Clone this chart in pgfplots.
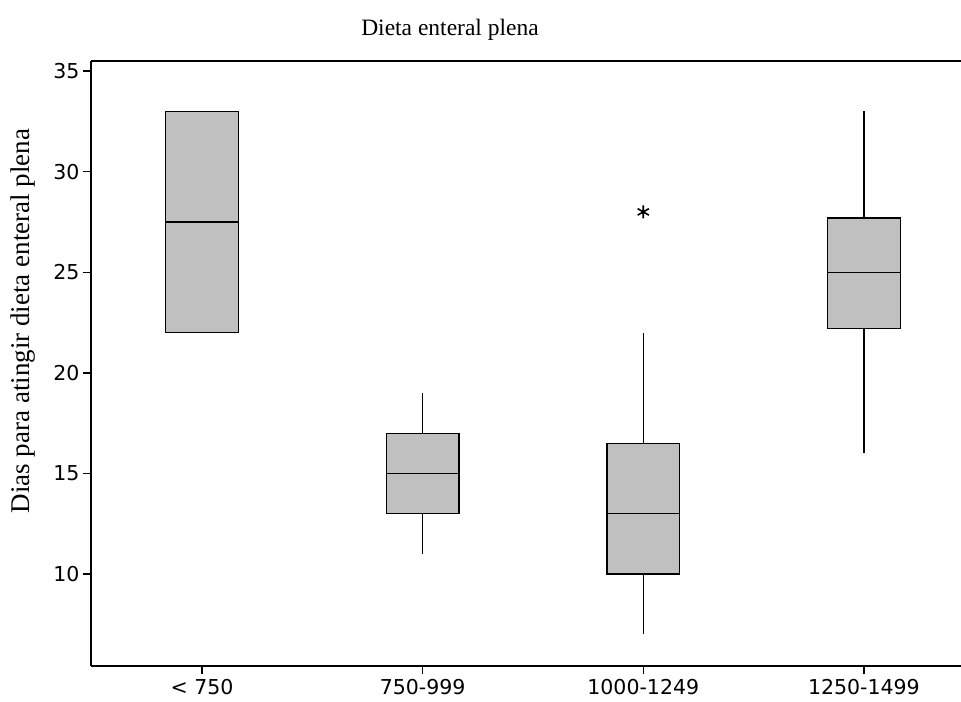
\documentclass[border=0pt]{standalone}
\usepackage{pgfplots}
\pgfplotsset{compat=1.18}
\usepackage{fontspec}
\setmainfont{Liberation Serif}
\newfontfamily\tickfont{DejaVu Sans}
\definecolor{boxgray}{RGB}{192,192,192}
\begin{document}
\begin{tikzpicture}
\begin{axis}[
  at={(91bp,36bp)}, anchor=south west,
  scale only axis, width=870bp, height=605bp,
  xmin=-0.503, xmax=3.44, ymin=5.43, ymax=35.5,
  axis x line*=box, axis y line*=left,
  xtick pos=left, ytick pos=left,
  xtick={0,1,2,3},
  xticklabels={{< 750},{750-999},{1000-1249},{1250-1499}},
  ytick={10,15,20,25,30,35},
  tick align=outside, major tick length=8bp,
  axis line style={line width=1.5bp, black},
  tick style={line width=1.3bp, black},
  tick label style={font=\tickfont\fontsize{20.5bp}{24bp}\selectfont, black},
  /pgf/number format/assume math mode=true,
  xticklabel style={yshift=-2bp},
  ln/.style={draw=black, line width=1.4bp, solid, mark=none},
]
% whiskers (category, low/high)
\addplot[ln] coordinates {(1,11) (1,13)};
\addplot[ln] coordinates {(1,17) (1,19)};
\addplot[ln] coordinates {(2,7) (2,10)};
\addplot[ln] coordinates {(2,16.5) (2,22)};
\addplot[ln] coordinates {(3,16) (3,22.2)};
\addplot[ln] coordinates {(3,27.7) (3,33)};
% boxes (lower quartile, upper quartile)
\addplot[ln, fill=boxgray] coordinates {(-0.165,22) (0.165,22) (0.165,33) (-0.165,33)} -- cycle;
\addplot[ln, fill=boxgray] coordinates {(0.835,13) (1.165,13) (1.165,17) (0.835,17)} -- cycle;
\addplot[ln, fill=boxgray] coordinates {(1.835,10) (2.165,10) (2.165,16.5) (1.835,16.5)} -- cycle;
\addplot[ln, fill=boxgray] coordinates {(2.835,22.2) (3.165,22.2) (3.165,27.7) (2.835,27.7)} -- cycle;
% medians
\addplot[ln] coordinates {(-0.165,27.5) (0.165,27.5)};
\addplot[ln] coordinates {(0.835,15) (1.165,15)};
\addplot[ln] coordinates {(1.835,13) (2.165,13)};
\addplot[ln] coordinates {(2.835,25) (3.165,25)};
% outlier
\addplot[only marks, mark=asterisk, mark size=6.5bp, mark options={draw=black, line width=1.6bp}] coordinates {(2,28)};
\end{axis}
\node[font=\fontsize{23.5bp}{28bp}\selectfont] at (450bp,672bp) {Dieta enteral plena};
\node[font=\fontsize{27bp}{32bp}\selectfont, rotate=90] at (23bp,381bp) {Dias para atingir dieta enteral plena};
\pgfresetboundingbox
\path[use as bounding box] (0,0) rectangle (961bp,702bp);
\end{tikzpicture}
\end{document}
